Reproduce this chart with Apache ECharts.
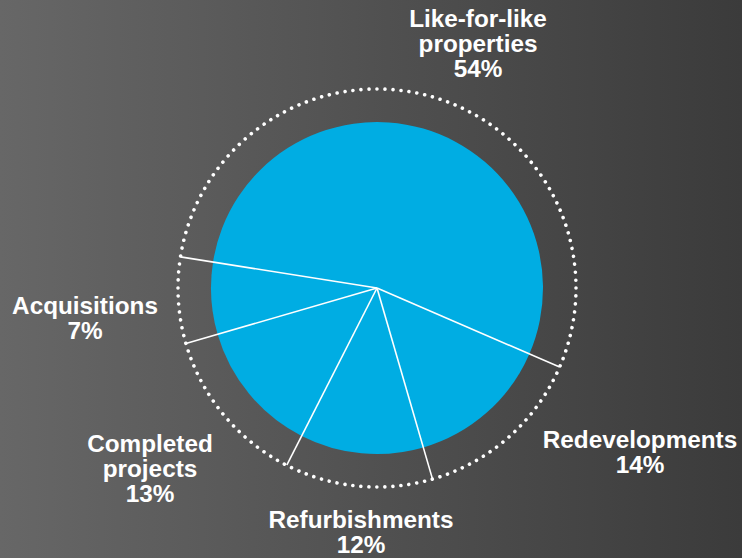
<!DOCTYPE html>
<html>
<head>
<meta charset="utf-8">
<script src="https://cdn.jsdelivr.net/npm/echarts@6/dist/echarts.min.js"></script>
<style>
html,body{margin:0;padding:0;}
#chart{width:742px;height:558px;}
</style>
</head>
<body>
<div id="chart"></div>
<script>
// Data
var categories = ['Like-for-like\nproperties', 'Redevelopments', 'Refurbishments', 'Completed\nprojects', 'Acquisitions'];
var values = [54, 14, 12, 13, 7];

// Layout (not data)
var labelPositions = [[478, 43], [640, 452], [361, 532], [150, 468], [85, 318]];
var center = [377, 288];
var startAngle = 171;

var total = values.reduce(function (a, b) { return a + b; }, 0);
var boundaries = [];
var acc = 0;
for (var i = 0; i < values.length; i++) { boundaries.push(acc); acc += values[i]; }

var chart = echarts.init(document.getElementById('chart'), null, { renderer: 'svg' });

var series = [{
  type: 'pie',
  center: center,
  radius: 166,
  startAngle: startAngle,
  clockwise: true,
  silent: true,
  animation: false,
  z: 1,
  itemStyle: { color: '#00ade3', borderWidth: 0 },
  label: {
    show: true,
    position: 'outside',
    formatter: '{b}\n{c}%',
    color: '#ffffff',
    fontFamily: 'Liberation Sans, Arial, sans-serif',
    fontWeight: 'bold',
    fontSize: 24.3,
    lineHeight: 25,
    align: 'center'
  },
  labelLine: { show: false },
  labelLayout: function (p) {
    var pos = labelPositions[p.dataIndex];
    return { x: pos[0], y: pos[1], align: 'center', verticalAlign: 'middle' };
  },
  data: categories.map(function (c, i) { return { name: c, value: values[i] }; })
}];

boundaries.forEach(function (b) {
  series.push({
    type: 'line',
    coordinateSystem: 'polar',
    symbol: 'none',
    silent: true,
    animation: false,
    z: 3,
    lineStyle: { color: '#ffffff', width: 1.6 },
    data: [[0, b], [1, b]]
  });
});

chart.setOption({
  backgroundColor: {
    type: 'linear', x: 0, y: 0, x2: 1, y2: 0,
    colorStops: [{ offset: 0, color: '#676767' }, { offset: 1, color: '#3b3b3b' }]
  },
  polar: { center: center, radius: 199 },
  angleAxis: {
    type: 'value', min: 0, max: total, startAngle: startAngle, clockwise: true,
    axisLine: { show: true, lineStyle: { color: '#ffffff', width: 3.6, type: [0.01, 8], cap: 'round' } },
    axisTick: { show: false }, axisLabel: { show: false }, splitLine: { show: false }
  },
  radiusAxis: {
    type: 'value', min: 0, max: 1,
    axisLine: { show: false }, axisTick: { show: false }, axisLabel: { show: false }, splitLine: { show: false }
  },
  series: series
});
</script>
</body>
</html>
